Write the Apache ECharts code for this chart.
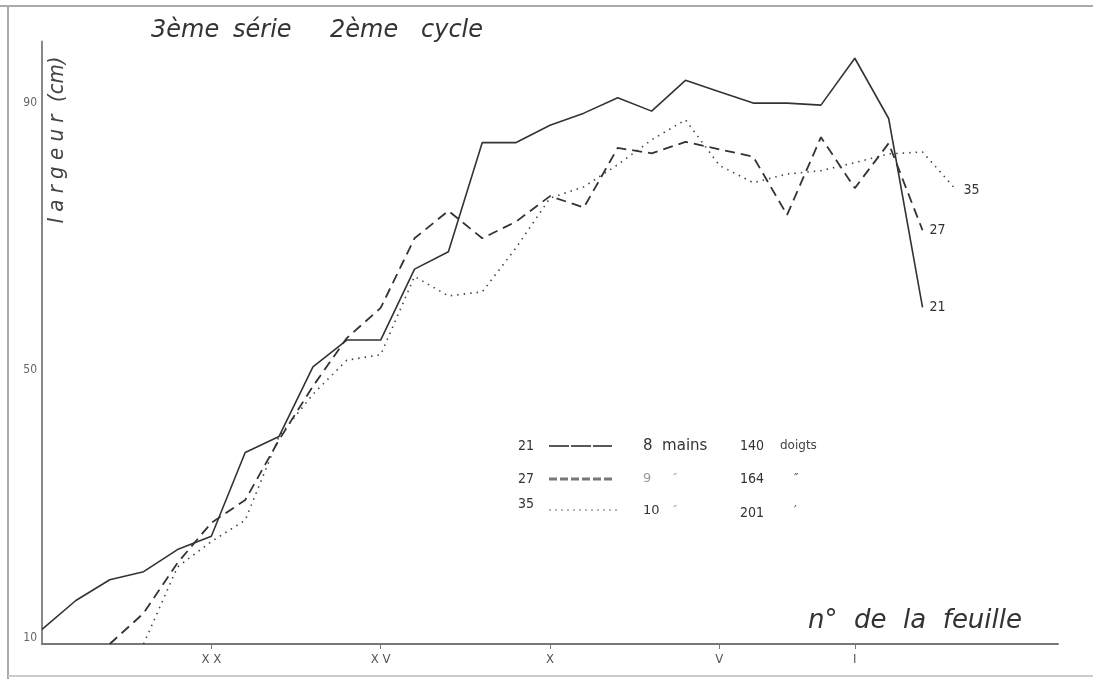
<!DOCTYPE html>
<html>
<head>
<meta charset="utf-8">
<script src="https://cdn.jsdelivr.net/npm/echarts@6/dist/echarts.min.js"></script>
<style>
html,body{margin:0;padding:0;background:#fff;}
#chart{width:1093px;height:679px;}
</style>
</head>
<body>
<div id="chart"></div>
<script>
// Leaf positions along the x axis (from leaf XXV on the left)
const categories = ['XXV','XXIV','XXIII','XXII','XXI','XX','XIX','XVIII','XVII','XVI','XV','XIV','XIII','XII','XI','X','IX','VIII','VII','VI','V','IV','III','II','I','0','-1','-2','-3','-4','-5'];
const xTickLabels = ['XX','XV','X','V','I'];
const yTickLabels = [10, 50, 90];

const seriesNames = ['21', '27', '35'];
const values21 = [12.2,16.5,19.6,20.8,24.1,26.1,38.6,41.0,51.4,55.4,55.4,66.0,68.6,84.9,84.9,87.5,89.3,91.6,89.6,94.2,92.5,90.8,90.8,90.5,97.5,88.5,60.3];
const values27 = [null,null,10,14.6,22.1,28.1,31.5,40.5,48.5,55.7,60.2,70.6,74.7,70.6,73.1,76.9,75.2,84.1,83.3,85.0,83.9,82.8,74.1,85.7,78.1,84.8,71.8];
const values35 = [null,null,null,10,21.5,25.3,28.5,41.0,47.3,52.4,53.2,64.9,62.0,62.6,69.2,76.6,78.3,81.6,85.3,88.3,81.5,78.9,80.2,80.7,81.9,83.2,83.5,77.8];

const legendRows = [
  ['21', '8  mains', '', '140', 'doigts'],
  ['27', '9', '″', '164', '″'],
  ['35', '10', '″', '201', '′']
];
const titleWords = ['3ème', 'série', '2ème', 'cycle'];

const FONT = "'DejaVu Sans Condensed','DejaVu Sans',sans-serif";
const WIDE = "'DejaVu Sans',sans-serif";
const INK = '#333';

const chart = echarts.init(document.getElementById('chart'), null, {renderer: 'canvas'});

function makeSeries(name, data, lineType, color, width) {
  return {
    name: name,
    type: 'line',
    data: data,
    showSymbol: false,
    symbol: 'none',
    connectNulls: false,
    lineStyle: {color: color, width: width, type: lineType},
    endLabel: {
      show: true,
      formatter: '{a}',
      color: INK,
      fontFamily: FONT,
      fontSize: 14,
      distance: 7
    },
    emphasis: {disabled: true},
    z: 3
  };
}

const legendY = [446, 479, 508];
const legendGraphics = [];
const sampleStyles = [
  {stroke: '#222', lineWidth: 1.6, lineDash: [20, 2]},
  {stroke: '#777', lineWidth: 3, lineDash: [8, 3]},
  {stroke: '#999', lineWidth: 1.5, lineDash: [2, 4]}
];
legendRows.forEach(function (row, i) {
  const y = legendY[i];
  const t = function (x, text, size, color, dy, fam) {
    legendGraphics.push({
      type: 'text', x: x, y: y + (dy || 0),
      style: {text: text, fill: color || INK, font: (size || 14) + 'px ' + (fam || FONT), verticalAlign: 'middle', textAlign: 'left'}
    });
  };
  t(518, row[0], 14, INK, i === 2 ? -4 : 0);
  legendGraphics.push({
    type: 'line',
    shape: {x1: 549, y1: y + (i === 2 ? 2 : 0), x2: i === 2 ? 618 : 612, y2: y + (i === 2 ? 2 : 0)},
    style: sampleStyles[i]
  });
  t(643, row[1], i === 0 ? 15 : 13, i === 1 ? '#999' : INK, i === 2 ? 3 : 0, WIDE);
  if (row[2]) t(673, row[2], 13, '#aaa', i === 2 ? 3 : 0);
  t(740, row[3], 14, INK, i === 2 ? 5 : 0);
  t(i === 0 ? 780 : 794, row[4], 12, '#444', i === 2 ? 3 : 0, WIDE);
});

const titleX = [151, 233, 330, 421];
const titleGraphics = titleWords.map(function (w, i) {
  return {type: 'text', x: titleX[i], y: 31,
    style: {text: w, fill: INK, font: 'italic 24px ' + WIDE, verticalAlign: 'middle'}};
});

const option = {
  animation: false,
  backgroundColor: '#fff',
  grid: {left: 42, right: 35, top: 41.5, bottom: 35, containLabel: false},
  xAxis: {
    type: 'category',
    data: categories,
    boundaryGap: false,
    axisLine: {show: true, lineStyle: {color: '#777', width: 2}},
    axisTick: {
      show: true, length: 5, inside: false,
      interval: function (idx, val) { return xTickLabels.indexOf(val) >= 0; },
      lineStyle: {color: '#777', width: 1}
    },
    axisLabel: {
      interval: 0,
      formatter: function (val) { return xTickLabels.indexOf(val) >= 0 ? val.split('').join(' ') : ''; },
      color: '#555', fontFamily: FONT, fontSize: 13, margin: 9
    },
    splitLine: {show: false}
  },
  yAxis: {
    type: 'value',
    min: 10, max: 100, interval: 10,
    axisLine: {show: true, onZero: false, lineStyle: {color: '#888', width: 2}},
    axisTick: {show: false},
    axisLabel: {
      formatter: function (v) { return yTickLabels.indexOf(v) >= 0 ? String(v) : ''; },
      color: '#666', fontFamily: FONT, fontSize: 12, margin: 5, verticalAlign: 'bottom'
    },
    splitLine: {show: false}
  },
  series: [
    makeSeries(seriesNames[0], values21, 'solid', '#333', 1.6),
    makeSeries(seriesNames[1], values27, [10, 6], '#333', 1.8),
    makeSeries(seriesNames[2], values35, [1.5, 5], '#444', 1.6)
  ],
  graphic: [
    {type: 'line', shape: {x1: 0, y1: 6, x2: 1093, y2: 6}, style: {stroke: '#aaa', lineWidth: 2}},
    {type: 'line', shape: {x1: 8, y1: 6, x2: 8, y2: 679}, style: {stroke: '#aaa', lineWidth: 2}},
    {type: 'line', shape: {x1: 8, y1: 676, x2: 1093, y2: 676}, style: {stroke: '#ccc', lineWidth: 2}},
    {type: 'text', x: 57, y: 140, rotation: Math.PI / 2,
      style: {text: 'l a r g e u r  (cm)', fill: '#444', font: 'italic 22px ' + FONT, align: 'center', verticalAlign: 'middle', textAlign: 'center'}},
    {type: 'text', x: 808, y: 621, style: {text: 'n°  de  la  feuille', fill: INK, font: 'italic 26px ' + WIDE, verticalAlign: 'middle'}}
  ].concat(titleGraphics, legendGraphics)
};
chart.setOption(option);
</script>
</body>
</html>
